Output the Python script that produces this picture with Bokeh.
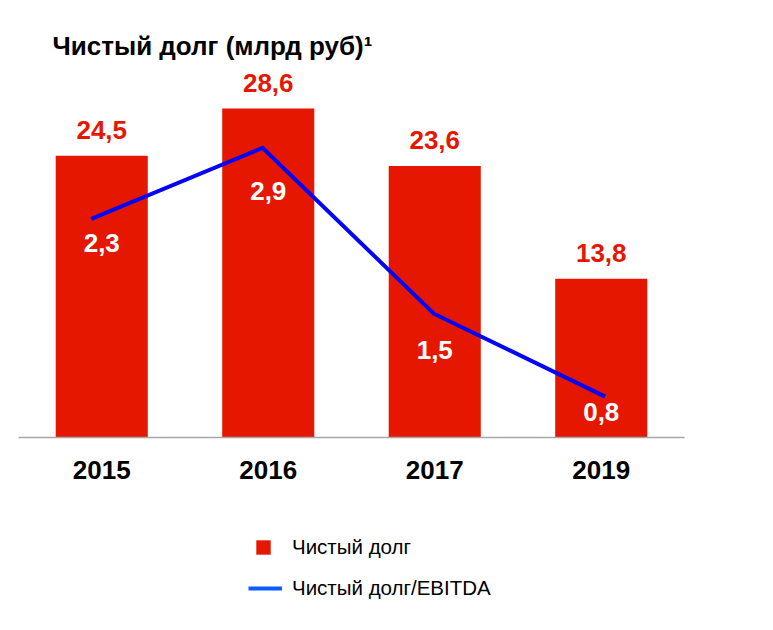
from bokeh.plotting import figure
from bokeh.layouts import column
from bokeh.models import Range1d, ColumnDataSource, Label, Legend, LegendItem, FixedTicker
from bokeh.embed import file_html
from bokeh.resources import INLINE
from bokeh.core.properties import value

# ---- data ----
years = ["2015", "2016", "2017", "2019"]
net_debt = [24.5, 28.6, 23.6, 13.8]
debt_ebitda = [2.3, 2.9, 1.5, 0.8]
title_text = "Чистый долг (млрд руб)¹"
legend_labels = ["Чистый долг", "Чистый долг/EBITDA"]

# ---- style / layout ----
RED = "#E61700"
BLUE = "#0505F5"
LEGEND_BLUE = "#0D5BFF"
FONT = "Liberation Sans"
ratio_label_offset = [24, 43, 36, 15]  # px below line point


def fmt(v):
    return f"{v:.1f}".replace(".", ",")


idx = list(range(len(years)))

p = figure(width=765, height=497,
           x_range=Range1d(-0.5, len(years) - 0.5),
           y_range=Range1d(0, 37.3),
           output_backend="svg", toolbar_location=None,
           y_axis_location=None,
           min_border_left=18, min_border_right=81,
           min_border_top=8, min_border_bottom=60,
           outline_line_color=None, background_fill_color="white",
           border_fill_color="white")
p.extra_x_ranges = {"idx": Range1d(-0.425, 3.463)}
p.extra_y_ranges = {"ratio": Range1d(0.455, 4.076)}

src = ColumnDataSource(dict(
    idx=idx,
    year=years,
    debt=net_debt,
    debt_lbl=[fmt(v) for v in net_debt],
    ratio=debt_ebitda,
    ratio_lbl=[fmt(v) for v in debt_ebitda],
    ratio_off=ratio_label_offset,
))

bars = p.vbar(x="idx", top="debt", width=0.553, source=src,
              fill_color=RED, line_color=None)

p.line(x="idx", y="ratio", source=src, x_range_name="idx", y_range_name="ratio",
       line_color=BLUE, line_width=4, line_join="miter")

p.text(x="idx", y="debt", text="debt_lbl", source=src, y_offset=-26,
       text_align="center", text_baseline="alphabetic",
       text_font=value(FONT), text_font_style="bold", text_font_size="26px",
       text_color=RED)

p.text(x="idx", y="ratio", text="ratio_lbl", source=src, y_range_name="ratio",
       y_offset="ratio_off",
       text_align="center", text_baseline="alphabetic",
       text_font=value(FONT), text_font_style="bold", text_font_size="26px",
       text_color="white")

p.add_layout(Label(x=34, y=392, x_units="screen", y_units="screen",
                   text=title_text, text_font=FONT, text_font_style="bold",
                   text_font_size="26px", text_color="black",
                   text_baseline="alphabetic"))

ax = p.xaxis[0]
ax.ticker = FixedTicker(ticks=idx)
ax.major_label_overrides = {i: y for i, y in zip(idx, years)}
ax.axis_line_color = "#A6A6A6"
ax.axis_line_width = 1.5
ax.major_tick_line_color = None
ax.minor_tick_line_color = None
ax.major_label_standoff = 17
ax.major_label_text_font = FONT
ax.major_label_text_font_style = "bold"
ax.major_label_text_font_size = "26px"
ax.major_label_text_color = "black"
p.grid.visible = False

# ---- legend panel (separate figure below, frames aligned with the main one) ----
lg = figure(width=765, height=125, x_range=Range1d(0, 1), y_range=Range1d(0, 1),
            output_backend="svg", toolbar_location=None,
            x_axis_location=None, y_axis_location=None,
            min_border_left=0, min_border_right=0, min_border_top=0, min_border_bottom=0,
            outline_line_color=None, background_fill_color="white",
            border_fill_color="white")
lg.grid.visible = False
bar_proxy = lg.vbar(x="idx", top="debt", width=0.5, source=src,
                    fill_color=RED, line_color=None, visible=False)
line_proxy = lg.line(x="idx", y="ratio", source=src,
                     line_color=LEGEND_BLUE, line_width=4, visible=False)

common = dict(padding=0, margin=0, spacing=0, border_line_color=None,
              background_fill_alpha=0, inactive_fill_alpha=0,
              label_text_font=FONT,
              label_text_font_size="20.5px", label_text_color="black",
              glyph_height=18, label_height=18)
leg1 = Legend(items=[LegendItem(label=legend_labels[0], renderers=[bar_proxy])],
              location=(236, 63), glyph_width=18, label_standoff=20, **common)
leg2 = Legend(items=[LegendItem(label=legend_labels[1], renderers=[line_proxy])],
              location=(230, 22), glyph_width=34, label_standoff=10, **common)
lg.add_layout(leg1)
lg.add_layout(leg2)

layout = column(p, lg, spacing=0)
open("out.html", "w").write(file_html(layout, INLINE))
